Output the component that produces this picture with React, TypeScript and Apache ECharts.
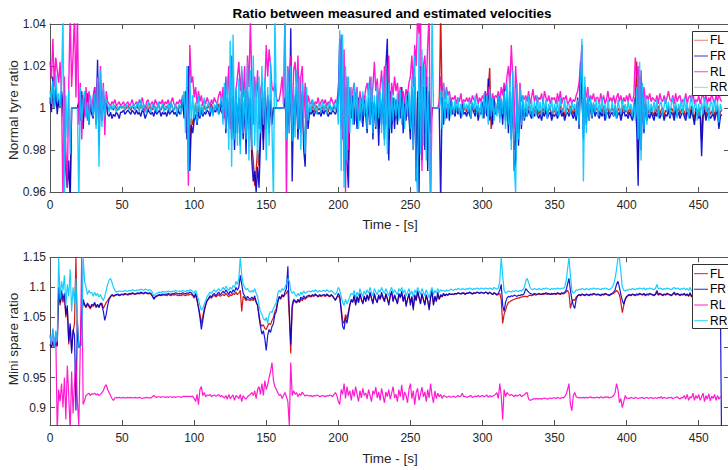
import React, { useEffect, useRef } from "react";
import * as echarts from "echarts";

// Values are deviations from 1 in thousandths (ratio = 1 + v / 1000), one sample per second (t = 0..466 s)
const timeStep = 1;
const seriesNames = ["FL", "FR", "RL", "RR"];
const xTicks = [0, 50, 100, 150, 200, 250, 300, 350, 400, 450];
const topYTicks = [0.96, 0.98, 1, 1.02, 1.04];
const botYTicks = [0.9, 0.95, 1, 1.05, 1.1, 1.15];
const title = "Ratio between measured and estimated velocities";
const xName = "Time - [s]";
const topYName = "Normal tyre ratio";
const botYName = "Mini spare ratio";

const topFL = [
  3, 0, 8, 0, 6, 0, 2, 0, 5, 0,
  -10, -28, -35, -30, -38, 0, 0, 0, 0, 0,
  2, -4, 6, -6, 3, -2, 5, -5, 1, -2,
  -3, 6, -5, 12, -10, 8, -4, 5, -2, 2,
  0, -1, 1, 0, -1, 1, 0, -1, 0, 1,
  0, 1, -1, 0, 1, 0, -1, 1, 0, -1,
  1, 0, -1, 2, 0, -1, 1, 0, -2, 1,
  0, -1, 1, 0, -1, 2, 0, -1, 1, 0,
  -1, 1, 0, -1, 2, 0, -1, 1, 0, -1,
  1, 0, 3, -3, 5, -8, 10, -20, -5, -8,
  -3, 2, -5, 1, -3, 0, -2, 1, -1, 0,
  1, -1, 2, -1, 0, 1, -1, 2, 0, -2,
  -3, 5, -8, 4, -6, 8, -10, 5, -12, 6,
  -8, 4, -12, 8, -10, 3, -15, 6, -8, 4,
  -18, -25, -37, -30, -20, -28, -10, 3, -15, 5,
  -6, 4, -8, 3, -5, 0, 0, 0, 0, 0,
  0, 0, 0, 3, -6, 5, -8, 10, -12, 4,
  -5, 8, -10, 4, -8, 6, -12, -15, 4, -6,
  0, -1, 1, -2, 0, 1, -1, 0, -2, 1,
  -1, 1, 0, -2, 1, 0, -1, 1, -1, 0,
  3, 20, -8, 10, -20, 8, -15, -25, 5, -3,
  4, -5, 2, -6, 3, -4, 1, -6, 3, -2,
  -6, 3, -5, 6, -8, 2, -6, 4, -10, 3,
  -5, 8, -10, 15, 20, -15, 5, -8, 3, -6,
  3, -5, 4, -3, 6, -8, 2, -4, 5, -3,
  -10, 6, -15, 10, -25, 5, -28, 15, -18, 8,
  -12, 10, -20, 5, -8, 0, 0, 0, 0, 0,
  0, 45, 3, -5, 2, -3, 1, -4, 2, -2,
  0, -2, 1, -1, 0, -3, 1, -1, 0, -2,
  1, -1, -3, 1, 0, -2, 1, -4, 0, -1,
  2, -3, 5, -2, 8, 19, -10, -5, 3, -1,
  0, 4, -3, 2, -5, 6, -4, 3, -8, 5,
  -10, 6, -20, -15, 5, -12, 3, -6, 2, -4,
  0, -2, 1, -1, -3, 0, -2, 1, -1, -3,
  -1, -4, 0, -2, 1, -3, -1, 0, -4, -1,
  -2, 0, -3, -1, 1, -2, 0, -4, -1, 0,
  -2, 1, -1, -3, 0, -4, 3, -6, 15, 5,
  -10, 6, -5, 3, -4, 2, -3, 1, -2, 0,
  -1, -3, 0, -2, 1, -4, -1, 0, -3, -1,
  0, -2, 1, -3, -1, 0, -4, -1, 1, -2,
  -1, -3, 0, -2, -4, 0, 3, 22, -25, 10,
  -12, 5, -8, 2, -4, -1, -3, 0, -2, -4,
  0, -2, 1, -3, -1, 0, -4, -1, -2, 1,
  -3, 0, -1, -4, 1, -2, 0, -3, -1, 0,
  -2, -4, 0, -1, -3, 1, -2, -6, 0, -1,
  -3, 0, -15, -2, 1, -4, -1, 0, -3, -2,
  0, -4, -1, 1, -8, -2, -1,
];

const topFR = [
  5, -2, 15, 0, 10, -3, 4, 0, 8, 2,
  -20, -30, -38, -25, -45, 0, 0, 0, 0, 0,
  3, -6, 8, -10, 5, -4, 7, -8, 2, -3,
  -5, 10, -8, 23, -18, 12, -6, 8, -4, 3,
  -3, -4, -2, -5, -3, -4, -2, -3, -5, -2,
  -2, -1, -3, -2, -1, -2, -3, -1, -2, -3,
  -1, -3, -2, -4, -1, -2, -5, -3, -1, -2,
  -3, -2, -4, -1, -3, -2, -1, -4, -2, -3,
  -2, -4, -1, -3, -2, -1, -3, -2, -4, -1,
  -3, -2, 5, -5, 8, -15, 20, -30, -8, -12,
  -6, -3, -8, -2, -5, -1, -4, -2, -3, -1,
  -2, -4, 1, -3, -1, -2, 2, -3, -1, 4,
  -5, 8, -12, 5, -8, 10, -15, 6, -20, 8,
  -12, 5, -18, 10, -15, 4, -22, 8, -10, 5,
  -25, -35, -30, -40, -28, -38, -15, 5, -20, 8,
  -10, 6, -12, 4, -8, 0, 0, 0, 0, 0,
  0, 0, 0, 5, -10, 8, -12, 38, -35, 6,
  -8, 10, -15, 5, -12, 8, -20, -28, 6, -10,
  -2, -3, -1, -4, -2, -1, -3, -2, -4, -1,
  -3, -1, -2, -4, -2, -3, -1, -2, -3, -1,
  5, 33, -10, 15, -30, 10, -25, -38, 8, -5,
  6, -8, 3, -10, 5, -6, 2, -9, 4, -3,
  -12, 5, -8, 10, -15, 3, -10, 6, -18, 4,
  -8, 10, -15, 20, 33, -25, 8, -12, 5, -10,
  4, -8, 6, -5, 10, -12, 3, -6, 8, -4,
  -15, 10, -20, 15, -35, 8, -40, 20, -25, 10,
  -20, 15, -30, 8, -12, 0, 0, 0, 0, 0,
  0, -45, 5, -8, 3, -5, 2, -6, 4, -3,
  -2, -4, 1, -3, -1, -5, 2, -3, -2, -4,
  -1, -3, -5, 2, -2, -4, 1, -6, -2, -3,
  3, -5, 8, -4, 14, -6, 2, -8, 5, -3,
  -2, 6, -5, 4, -8, 10, -6, 5, -12, 8,
  -15, 10, -30, -25, 8, -18, 5, -10, 3, -6,
  -2, -4, -1, -3, -5, -2, -4, -1, -3, -5,
  -3, -6, -2, -4, -1, -5, -3, -2, -6, -3,
  -4, -2, -5, -3, -1, -4, -2, -6, -3, -2,
  -4, -1, -3, -5, -2, -6, 5, -10, 22, 8,
  -15, 10, -8, 5, -6, 3, -5, 2, -4, -2,
  -3, -5, -2, -4, -1, -6, -3, -2, -5, -3,
  -2, -4, -1, -5, -3, -2, -6, -3, -1, -4,
  -3, -5, -2, -4, -6, -2, 5, -10, -37, 15,
  -20, 8, -12, 4, -6, -3, -5, -2, -4, -6,
  -2, -4, -1, -5, -3, -2, -6, -3, -4, -1,
  -5, -2, -3, -6, -1, -4, -2, -5, -3, -2,
  -4, -6, -2, -3, -5, -1, -4, -8, -2, -3,
  -5, -2, -23, -4, -1, -6, -3, -2, -5, -4,
  -2, -6, -3, -1, -10, -4, -3,
];

const topRL = [
  22, 14, 33, 10, 24, 18, 12, 22, 6, -45,
  15, -20, -38, 10, 45, 10, 25, 45, 5, 45,
  -8, 12, -15, 6, -4, 10, -6, 8, 3, -2,
  6, 10, -4, 15, -10, 20, -5, 12, -13, 8,
  3, 2, 1, 3, 2, 4, 1, 2, 3, 1,
  2, 3, 1, 2, 3, 1, 2, 4, 1, 2,
  3, 1, 4, 2, 5, 1, -2, 3, 4, 1,
  2, 3, 1, 4, 2, 1, 3, 2, 4, 1,
  3, 2, 4, 1, 3, 5, 2, 1, 3, 2,
  4, 2, 6, 3, -5, 10, -37, 30, 12, 15,
  5, 10, 2, 8, 3, 6, 1, 4, 2, 5,
  3, 1, 4, 2, 5, 3, 2, 6, 8, 3,
  10, -5, 15, 6, 20, -10, 25, 12, -15, 8,
  15, 22, 8, 18, 5, 20, -12, 25, 10, 42,
  12, -8, 15, 5, 18, -10, 8, 12, -5, 10,
  30, 15, 28, 20, 10, 8, 12, 5, 3, 4,
  8, 15, 2, 45, -45, 20, 10, 25, -8, 18,
  22, 8, 25, -10, 15, 20, -5, 12, -8, 6,
  3, 2, 4, 1, 3, 2, 5, 1, 3, 4,
  2, 4, 1, 3, 2, 5, 3, 1, 4, 2,
  10, 20, 35, -15, 28, -40, 15, -20, 10, 5,
  8, 12, 3, 10, -5, 8, 2, 6, 4, 9,
  12, 6, 15, 3, 10, 22, 8, 14, 2, 10,
  18, 5, 20, -8, 15, 25, -10, 12, 6, 15,
  8, 12, 3, 10, 5, 8, 2, 9, 6, 12,
  15, 25, 10, 30, 20, 45, 35, 45, -30, 20,
  25, 10, 30, 45, -45, 0, 0, 0, 0, 0,
  3, 15, 8, 12, 4, 10, 6, 8, 3, 5,
  4, 6, 2, 5, 3, 7, 2, 4, 3, 5,
  3, 5, 2, 6, 4, 3, 7, 2, 5, 3,
  6, 4, 8, 3, 10, 5, 2, 7, 4, 6,
  5, 8, 3, 10, 6, 12, 8, 15, 20, 10,
  30, 15, -10, 20, 5, -8, 12, 3, 6, 4,
  6, 3, 8, 2, 5, 9, 3, 6, 2, 5,
  4, 7, 2, 8, 5, 3, 6, 2, 5, 4,
  5, 2, 7, 3, 8, 2, 5, 4, 6, 2,
  3, 5, 2, 4, 3, 6, 8, 12, 20, 30,
  -10, 8, 5, 10, 3, 6, 4, 7, 3, 5,
  5, 2, 7, 3, 6, 2, 4, 8, 3, 5,
  3, 6, 2, 5, 7, 3, 6, 2, 5, 3,
  6, 3, 7, 4, 3, 6, 24, 15, 20, -15,
  18, -5, 10, 3, 6, 4, 7, 3, 5, 4,
  3, 6, 2, 7, 4, 3, 6, 2, 5, 8,
  4, 3, 6, 2, 7, 3, 5, 6, 2, 4,
  3, 7, 2, 5, 6, 3, 8, 2, 4, 3,
  6, 2, 5, 7, 3, 6, 2, 5, 3, 7,
  4, 2, 6, 3, 7, 4, 3,
];

const topRR = [
  8, 2, 13, 0, 16, 3, 7, 0, 12, 45,
  -45, 6, -14, 9, -22, 0, 0, 0, 0, 0,
  -45, 10, -6, 4, 8, -5, 3, -8, 6, 2,
  -4, 7, -10, 14, -28, 18, -9, 10, -4, 4,
  2, -2, 1, -1, 2, 0, -2, 1, -1, 1,
  0, 1, -1, 2, 0, -1, 1, 0, 2, -1,
  1, 3, -2, 4, -1, 2, 0, -3, 3, 1,
  -2, 2, -1, 1, -2, 3, -1, 0, 2, -2,
  1, -1, 2, -2, 3, 0, -1, 2, -3, 1,
  2, -3, 4, 8, -12, 20, -30, 15, -8, 6,
  -5, 3, -7, 6, -4, 2, -3, 5, -2, 1,
  3, -2, 1, -4, 2, -1, 3, -3, 2, 6,
  -8, 12, -10, 15, -20, 32, -28, 35, -15, 10,
  -18, 14, -22, 20, -12, 9, -15, 22, -25, 18,
  -20, 25, -18, 12, -26, 15, -12, 20, -8, 14,
  -25, 10, -18, 22, -10, -45, 45, 0, 0, 0,
  0, 0, 0, 45, -15, 18, -12, 20, -16, 10,
  -14, 18, -10, 15, -20, 12, -8, -22, 10, -6,
  3, -2, 4, -1, 2, -3, 1, 2, -2, 3,
  -1, 2, -3, 1, 3, -2, 0, 2, -1, 4,
  -8, 37, -30, 35, -38, 20, -25, 15, -12, 10,
  -8, 12, -6, 9, -10, 5, -7, 8, -4, 6,
  -10, 12, -8, 15, -12, 6, -9, 11, -5, 8,
  -12, 15, -18, 20, -22, 12, -10, 8, -6, 5,
  -4, 7, -6, 9, -8, 5, -10, 6, -4, 8,
  -10, 15, -20, 25, -28, -42, 35, -22, 28, -18,
  20, -25, 15, -22, -45, 45, 0, 0, 0, 0,
  0, 8, -10, 12, -6, 9, -5, 7, -4, 3,
  -3, 4, -2, 5, -3, 2, -4, 3, -1, 2,
  -2, 4, -5, 3, -1, 6, -3, 2, -4, 3,
  -5, 7, -3, 6, -8, 9, -4, 5, -6, 3,
  -4, 6, -7, 5, -3, 8, -10, 12, -8, 15,
  -20, 18, -28, -40, 12, -15, 10, -8, 6, -5,
  5, -4, 6, -3, 4, -5, 3, -4, 6, -2,
  3, -4, 5, -2, 4, -5, 2, -1, 4, -3,
  2, -3, 4, -4, 5, -1, -2, 4, -3, 2,
  2, -3, 3, -1, 2, -4, 4, -8, 12, 33,
  -35, 15, -12, 8, -6, 5, -4, 3, -2, 4,
  -4, 3, -2, 5, -3, 2, -5, 4, -1, -2,
  3, -4, 2, -5, 4, 0, -3, 4, -2, 2,
  -2, 3, -1, 2, -4, 3, -6, 10, -15, 22,
  -25, 12, -10, 6, -8, 4, -3, 2, -2, 3,
  -2, 4, -5, 2, 3, -4, 1, 5, -2, 3,
  -4, 2, 5, -2, 3, -5, 2, -1, 4, -3,
  5, -2, 3, -5, 2, 6, -3, 1, 3, -6,
  2, -4, 3, -3, 5, -2, 3, -6, 2, 3,
  -3, 4, -2, 3, -7, 2, -1,
];

const botFL = [
  5, 0, 10, 0, 8, 2, 90, 70, 85, 75,
  85, 50, 65, 5, 35, -5, 25, 40, 150, 20,
  0, 0, 55, 75, 70, 66, 72, 68, 64, 70,
  68, 73, 66, 70, 68, 72, 74, 65, 70, 75,
  78, 82, 84, 87, 85, 86, 87, 88, 86, 87,
  88, 87, 89, 88, 87, 89, 88, 90, 89, 88,
  89, 90, 89, 90, 90, 89, 91, 90, 89, 90,
  89, 85, 82, 84, 85, 86, 87, 86, 87, 87,
  87, 86, 88, 87, 86, 88, 87, 88, 87, 86,
  87, 86, 88, 87, 86, 88, 87, 89, 88, 86,
  82, 88, 78, 68, 55, 40, 52, 64, 72, 78,
  80, 84, 82, 85, 87, 84, 86, 88, 85, 87,
  88, 86, 90, 87, 84, 88, 86, 90, 88, 92,
  88, 90, 95, 60, 85, 82, 78, 80, 79, 78,
  80, 78, 82, 75, 70, 55, 40, 35, 38, 32,
  30, 36, 40, 38, 45, 50, 60, 65, 78, 84,
  80, 86, 84, 88, 90, 95, 50, -10, 65, 78,
  76, 74, 78, 75, 80, 78, 82, 80, 83, 84,
  85, 84, 86, 85, 87, 86, 84, 86, 85, 86,
  86, 85, 87, 86, 84, 87, 85, 82, 80, 83,
  86, 82, 65, 45, 40, 55, 48, 60, 72, 78,
  76, 85, 72, 84, 76, 88, 80, 74, 85, 78,
  86, 80, 90, 82, 75, 88, 80, 76, 86, 80,
  88, 82, 78, 88, 80, 74, 85, 92, 78, 86,
  80, 74, 88, 82, 90, 78, 86, 72, 80, 88,
  74, 84, 66, 86, 78, 92, 82, 74, 88, 80,
  72, 86, 78, 66, 82, 92, 72, 84, 78, 88,
  80, 86, 84, 88, 86, 88, 87, 89, 88, 89,
  88, 89, 89, 90, 90, 89, 90, 91, 89, 90,
  90, 91, 90, 89, 91, 90, 91, 92, 90, 91,
  91, 90, 92, 91, 89, 92, 90, 88, 91, 89,
  87, 88, 90, 80, 40, 55, 62, 70, 75, 76,
  78, 79, 80, 81, 82, 82, 83, 84, 84, 85,
  85, 84, 86, 87, 86, 87, 88, 87, 88, 89,
  88, 89, 88, 90, 89, 88, 90, 89, 88, 89,
  89, 88, 90, 89, 88, 90, 89, 90, 92, 95,
  90, 65, 75, 80, 78, 84, 86, 87, 86, 88,
  87, 86, 88, 87, 86, 88, 87, 89, 88, 87,
  88, 87, 86, 88, 87, 89, 88, 87, 86, 88,
  89, 90, 92, 95, 92, 88, 75, 58, 70, 80,
  84, 86, 87, 86, 88, 87, 86, 88, 87, 89,
  88, 87, 89, 86, 88, 87, 89, 88, 87, 86,
  88, 92, 87, 89, 88, 86, 88, 87, 89, 88,
  87, 86, 88, 90, 87, 89, 88, 86, 88, 87,
  89, 86, 88, 85, 90, 84, 88, 86, 89, 85,
  88, 84, 90, 86, 82, 89, 85, 88, 83, 90,
  86, 84, 89, 85, 88, 83, 86,
];

const botFR = [
  5, 0, 10, 0, 8, 2, 100, 75, 95, 80,
  90, 55, 70, 10, 40, -10, 30, 20, -105, 45,
  0, 0, 60, 80, 72, 68, 74, 70, 66, 72,
  70, 75, 68, 72, 66, 74, 70, 60, 45, 55,
  70, 80, 85, 88, 86, 87, 88, 89, 87, 88,
  89, 88, 90, 89, 88, 90, 89, 91, 90, 89,
  90, 91, 90, 92, 91, 90, 92, 91, 90, 91,
  90, 86, 80, 84, 86, 87, 88, 87, 89, 88,
  89, 88, 90, 89, 88, 90, 89, 91, 90, 89,
  90, 89, 91, 90, 89, 91, 90, 92, 91, 88,
  84, 90, 80, 65, 50, 30, 45, 60, 70, 78,
  82, 86, 84, 88, 90, 86, 89, 92, 88, 90,
  94, 90, 96, 92, 88, 94, 90, 96, 92, 100,
  95, 100, 120, 105, 90, 86, 80, 85, 82, 80,
  84, 80, 86, 76, 70, 50, 35, 22, 28, 15,
  -5, 20, 30, 25, 35, 40, 55, 60, 75, 85,
  82, 88, 85, 92, 98, 135, 60, 5, 70, 80,
  78, 75, 80, 76, 84, 80, 86, 82, 85, 86,
  87, 85, 88, 86, 89, 87, 85, 88, 86, 87,
  88, 86, 89, 87, 85, 88, 86, 82, 78, 84,
  90, 85, 60, 35, 30, 50, 40, 55, 70, 80,
  75, 88, 70, 85, 74, 90, 80, 72, 86, 76,
  88, 78, 92, 82, 72, 90, 80, 74, 88, 80,
  92, 84, 76, 90, 82, 70, 86, 94, 76, 88,
  80, 72, 90, 84, 94, 76, 88, 68, 80, 90,
  70, 85, 62, 88, 78, 94, 84, 72, 90, 80,
  70, 88, 78, 62, 84, 95, 70, 86, 76, 92,
  80, 88, 85, 90, 86, 89, 87, 90, 88, 89,
  88, 90, 89, 91, 90, 89, 91, 90, 88, 91,
  90, 92, 91, 89, 91, 90, 92, 91, 90, 92,
  91, 90, 92, 91, 89, 92, 90, 88, 91, 90,
  88, 90, 95, 105, 70, 60, 75, 82, 85, 84,
  86, 85, 87, 86, 85, 87, 86, 88, 87, 90,
  98, 95, 92, 90, 89, 88, 90, 89, 88, 90,
  89, 88, 90, 89, 91, 90, 89, 88, 90, 89,
  90, 89, 91, 90, 89, 91, 90, 92, 95, 105,
  115, 95, 80, 70, 65, 80, 86, 88, 87, 89,
  88, 87, 89, 88, 87, 89, 88, 90, 89, 88,
  89, 88, 87, 89, 88, 90, 89, 88, 87, 89,
  90, 92, 96, 105, 110, 100, 88, 78, 72, 80,
  85, 87, 88, 87, 89, 88, 87, 89, 88, 90,
  89, 88, 90, 87, 89, 88, 90, 89, 88, 87,
  89, 95, 88, 90, 89, 87, 89, 88, 90, 89,
  88, 87, 89, 92, 88, 90, 89, 87, 89, 88,
  90, 87, 89, 86, 91, 85, 89, 87, 90, 86,
  89, 85, 91, 87, 83, 90, 86, 89, 84, 91,
  87, 85, 90, 86, 89, 84, -200,
];

const botRL = [
  20, 5, 30, 0, 25, -140, -70, -90, -60, -100,
  -50, -120, -30, -80, -140, -40, -110, -60, -20, -90,
  -130, 0, 150, -95, -88, -80, -78, -76, -80, -77,
  -78, -76, -79, -77, -80, -78, -75, -72, -65, -62,
  -70, -75, -80, -85, -88, -84, -83, -84, -83, -84,
  -84, -83, -84, -84, -83, -84, -83, -84, -84, -83,
  -84, -84, -83, -84, -85, -84, -84, -83, -84, -84,
  -84, -82, -80, -82, -83, -82, -82, -83, -82, -82,
  -83, -82, -83, -82, -82, -83, -82, -83, -82, -82,
  -82, -83, -82, -81, -82, -81, -82, -81, -82, -81,
  -85, -90, -78, -95, -70, -65, -80, -75, -82, -79,
  -80, -78, -82, -80, -79, -81, -80, -78, -82, -80,
  -82, -84, -80, -86, -78, -85, -82, -79, -88, -80,
  -82, -85, -78, -90, -80, -84, -86, -82, -80, -78,
  -75, -80, -72, -85, -70, -65, -78, -60, -80, -55,
  -70, -62, -50, -40, -25, -55, -65, -70, -75, -80,
  -78, -85, -80, -75, -82, -90, -130, -25, -80, -72,
  -78, -75, -82, -77, -80, -74, -78, -81, -79, -80,
  -81, -80, -82, -80, -81, -79, -80, -82, -81, -80,
  -81, -82, -80, -81, -79, -80, -82, -78, -75, -80,
  -90, -95, -70, -78, -60, -85, -65, -80, -72, -88,
  -70, -82, -65, -78, -90, -72, -84, -68, -80, -76,
  -85, -70, -80, -90, -72, -78, -66, -84, -74, -88,
  -68, -80, -92, -74, -82, -70, -86, -76, -65, -84,
  -78, -90, -70, -82, -62, -88, -74, -80, -92, -70,
  -60, -85, -72, -95, -75, -68, -88, -78, -66, -82,
  -74, -90, -70, -84, -60, -80, -92, -72, -85, -76,
  -82, -78, -85, -80, -81, -83, -82, -81, -83, -82,
  -81, -83, -82, -80, -82, -81, -76, -82, -81, -83,
  -82, -81, -80, -83, -82, -81, -82, -80, -82, -81,
  -80, -82, -81, -79, -83, -80, -82, -81, -80, -78,
  -75, -85, -60, -80, -120, -70, -82, -75, -78, -80,
  -78, -80, -82, -79, -81, -80, -78, -82, -80, -79,
  -76, -75, -86, -88, -87, -86, -85, -86, -85, -86,
  -85, -86, -85, -84, -85, -86, -85, -84, -85, -84,
  -84, -85, -83, -84, -85, -83, -84, -82, -78, -70,
  -60, -95, -105, -80, -75, -82, -83, -84, -83, -84,
  -83, -84, -83, -84, -83, -82, -84, -83, -84, -83,
  -83, -84, -82, -83, -84, -82, -83, -82, -84, -83,
  -82, -80, -75, -60, -70, -92, -85, -100, -90, -80,
  -85, -84, -85, -83, -84, -85, -83, -84, -85, -84,
  -84, -83, -85, -84, -83, -85, -84, -83, -85, -84,
  -84, -85, -83, -84, -82, -85, -83, -84, -85, -83,
  -84, -83, -85, -84, -83, -82, -84, -86, -83, -84,
  -80, -86, -78, -88, -82, -84, -76, -88, -80, -85,
  -78, -88, -82, -76, -90, -80, -86, -77, -89, -81,
  -85, -78, -88, -80, -86, -82, -84,
];

const botRR = [
  20, 5, 32, 0, 28, 10, 150, 80, 110, 95,
  120, 70, 105, 85, 130, 60, 100, 75, 115, 40,
  0, 0, 5, 150, 110, 100, 88, 95, 90, 92,
  85, 92, 86, 90, 84, 88, 82, 78, 85, 95,
  105, 112, 115, 108, 100, 95, 92, 93, 94, 93,
  94, 93, 95, 94, 93, 95, 94, 96, 95, 94,
  95, 96, 95, 97, 96, 95, 97, 96, 95, 96,
  95, 92, 85, 88, 90, 91, 92, 91, 93, 92,
  93, 92, 94, 93, 92, 94, 93, 95, 94, 93,
  94, 93, 95, 94, 93, 95, 94, 96, 95, 93,
  90, 95, 88, 80, 70, 62, 65, 72, 78, 85,
  88, 92, 90, 94, 96, 92, 95, 98, 94, 96,
  100, 96, 102, 98, 95, 100, 97, 103, 100, 110,
  105, 115, 150, 120, 105, 100, 96, 98, 94, 92,
  95, 92, 98, 90, 85, 70, 60, 55, 48, 45,
  50, 40, 55, 60, 58, 65, 70, 75, 90, 95,
  92, 98, 95, 100, 105, 115, 110, 95, 90, 93,
  88, 85, 90, 86, 92, 88, 94, 90, 92, 93,
  94, 92, 95, 93, 96, 94, 92, 95, 93, 94,
  95, 93, 96, 94, 92, 95, 93, 90, 88, 92,
  100, 95, 85, 75, 70, 80, 72, 78, 85, 90,
  88, 95, 82, 92, 86, 98, 90, 85, 94, 88,
  96, 90, 100, 92, 86, 98, 92, 88, 96, 92,
  100, 94, 90, 98, 92, 86, 95, 100, 90, 96,
  92, 88, 98, 94, 100, 90, 96, 86, 92, 98,
  88, 94, 84, 96, 90, 100, 94, 88, 98, 92,
  86, 96, 90, 82, 94, 100, 88, 95, 90, 98,
  92, 96, 94, 95, 93, 96, 94, 95, 97, 96,
  95, 97, 96, 98, 97, 96, 98, 97, 96, 98,
  97, 99, 98, 96, 98, 97, 99, 98, 97, 99,
  98, 97, 99, 98, 97, 99, 98, 96, 100, 98,
  97, 99, 110, 150, 120, 95, 90, 92, 94, 93,
  92, 94, 93, 95, 94, 93, 95, 94, 96, 100,
  110, 115, 108, 100, 97, 96, 98, 97, 96, 98,
  97, 96, 98, 97, 99, 98, 97, 96, 98, 97,
  98, 97, 99, 98, 97, 99, 98, 100, 110, 130,
  150, 120, 95, 90, 92, 96, 95, 97, 96, 98,
  97, 96, 98, 97, 96, 98, 97, 99, 98, 97,
  98, 97, 96, 98, 97, 99, 98, 97, 96, 98,
  100, 105, 115, 130, 150, 148, 125, 100, 95, 94,
  96, 95, 97, 96, 98, 97, 96, 98, 97, 99,
  98, 97, 99, 96, 98, 97, 99, 98, 97, 96,
  98, 105, 97, 99, 98, 96, 98, 97, 99, 98,
  97, 96, 98, 100, 97, 99, 98, 96, 98, 97,
  99, 96, 98, 95, 100, 94, 98, 96, 99, 95,
  98, 94, 100, 96, 92, 99, 95, 98, 93, 100,
  96, 94, 99, 95, 98, 93, 97,
];

const lineColors = ["#cc0000", "#0000cc", "#ff00cc", "#00c8ff"];
const topLegendColors = ["#f09090", "#5a5ae0", "#ff60d8", "#90e4ff"];
const botLegendColors = ["#e04848", "#4848d8", "#ff48d4", "#48d8ff"];

const FONT = "'Liberation Sans', Arial, Helvetica, sans-serif";
const AXIS_COLOR = "#555555";
const TEXT_COLOR = "#262626";

const X_MAX = 471;
const GRID_LEFT = 50;
const GRID_WIDTH = 679;
const GRID_TOPS = [24, 257.3];
const GRID_HEIGHTS = [168, 167.7];
const Y_RANGES = [
  [0.96, 1.04],
  [0.871, 1.15],
];
const LINE_WIDTHS = [1.4, 1.2];

function toPoints(arr: number[]) {
  return arr.map((v, i) => [i * timeStep, 1 + v / 1000]);
}

function fmtY(v: number) {
  return String(Math.round(v * 100) / 100);
}

function buildOption() {
  const xAxis: any[] = [];
  const yAxis: any[] = [];
  const yTicksSets = [topYTicks, botYTicks];
  for (let g = 0; g < 2; g++) {
    for (const pos of ["bottom", "top"]) {
      xAxis.push({
        type: "value",
        gridIndex: g,
        position: pos,
        min: 0,
        max: X_MAX,
        axisLine: { show: true, onZero: false, lineStyle: { color: AXIS_COLOR, width: 1 } },
        axisTick: {
          show: true,
          inside: true,
          length: 5,
          customValues: xTicks,
          lineStyle: { color: AXIS_COLOR, width: 1 },
        },
        axisLabel: {
          show: pos === "bottom",
          customValues: xTicks,
          margin: 7,
          color: TEXT_COLOR,
          fontSize: 12,
          fontFamily: FONT,
        },
        splitLine: { show: false },
      });
    }
    for (const pos of ["left", "right"]) {
      yAxis.push({
        type: "value",
        gridIndex: g,
        position: pos,
        min: Y_RANGES[g][0],
        max: Y_RANGES[g][1],
        axisLine: { show: true, onZero: false, lineStyle: { color: AXIS_COLOR, width: 1 } },
        axisTick: {
          show: true,
          inside: true,
          length: 5,
          customValues: yTicksSets[g],
          lineStyle: { color: AXIS_COLOR, width: 1 },
        },
        axisLabel: {
          show: pos === "left",
          customValues: yTicksSets[g],
          formatter: fmtY,
          margin: 4,
          color: TEXT_COLOR,
          fontSize: 12,
          fontFamily: FONT,
        },
        splitLine: { show: false },
      });
    }
  }

  const topData = [topFL, topFR, topRL, topRR];
  const botData = [botFL, botFR, botRL, botRR];
  const series: any[] = [];
  [topData, botData].forEach((set, g) => {
    set.forEach((arr, k) => {
      series.push({
        type: "line",
        name: seriesNames[k] + (g === 0 ? " (normal)" : " (mini)"),
        xAxisIndex: g * 2,
        yAxisIndex: g * 2,
        data: toPoints(arr),
        showSymbol: false,
        symbol: "none",
        clip: true,
        silent: true,
        lineStyle: { color: lineColors[k], width: LINE_WIDTHS[g], opacity: 0.9 },
        z: 2 + k,
      });
    });
  });

  const graphic: any[] = [];
  graphic.push({
    type: "text",
    x: 392,
    y: 13.5,
    z: 100,
    style: {
      text: title,
      fontSize: 13.5,
      fontWeight: "bold",
      fontFamily: FONT,
      fill: "#000000",
      align: "center",
      verticalAlign: "middle",
    },
  });
  const xNameY = [224, 458];
  const yNameY = [110, 339];
  const yNames = [topYName, botYName];
  for (let g = 0; g < 2; g++) {
    graphic.push({
      type: "text",
      x: 390,
      y: xNameY[g],
      z: 100,
      style: {
        text: xName,
        fontSize: 13.5,
        fontFamily: FONT,
        fill: TEXT_COLOR,
        align: "center",
        verticalAlign: "middle",
      },
    });
    graphic.push({
      type: "text",
      x: 13.5,
      y: yNameY[g],
      rotation: Math.PI / 2,
      z: 100,
      style: {
        text: yNames[g],
        fontSize: 13.5,
        fontFamily: FONT,
        fill: TEXT_COLOR,
        align: "center",
        verticalAlign: "middle",
      },
    });
    // legend box
    const top = GRID_TOPS[g] + 7;
    const legendColors = g === 0 ? topLegendColors : botLegendColors;
    graphic.push({
      type: "rect",
      z: 100,
      shape: { x: 692.5, y: Math.round(top) + 0.5, width: 60, height: 64 },
      style: { fill: "#ffffff", stroke: "#333333", lineWidth: 1 },
    });
    seriesNames.forEach((nm, k) => {
      const yy = top + 9.3 + 15.7 * k;
      graphic.push({
        type: "line",
        z: 101,
        shape: { x1: 694, y1: yy, x2: 708, y2: yy },
        style: { stroke: legendColors[k], lineWidth: 1.2 },
      });
      graphic.push({
        type: "text",
        x: 710,
        y: yy,
        z: 101,
        style: {
          text: nm,
          fontSize: 12,
          fontFamily: FONT,
          fill: "#000000",
          align: "left",
          verticalAlign: "middle",
        },
      });
    });
  }

  return {
    animation: false,
    backgroundColor: "#ffffff",
    grid: [0, 1].map((g) => ({
      left: GRID_LEFT,
      top: GRID_TOPS[g],
      width: GRID_WIDTH,
      height: GRID_HEIGHTS[g],
      containLabel: false,
      outerBoundsMode: "none",
      show: false,
    })),
    xAxis,
    yAxis,
    series,
    graphic,
  };
}

export default function App() {
  const ref = useRef<HTMLDivElement>(null);
  useEffect(() => {
    if (!ref.current) return;
    const chart = echarts.init(ref.current, undefined, { renderer: "svg" });
    chart.setOption(buildOption() as any);
    return () => {
      chart.dispose();
    };
  }, []);
  return (
    <div
      ref={ref}
      style={{ position: "fixed", left: 0, top: 0, width: 728, height: 470, background: "#ffffff" }}
    />
  );
}
